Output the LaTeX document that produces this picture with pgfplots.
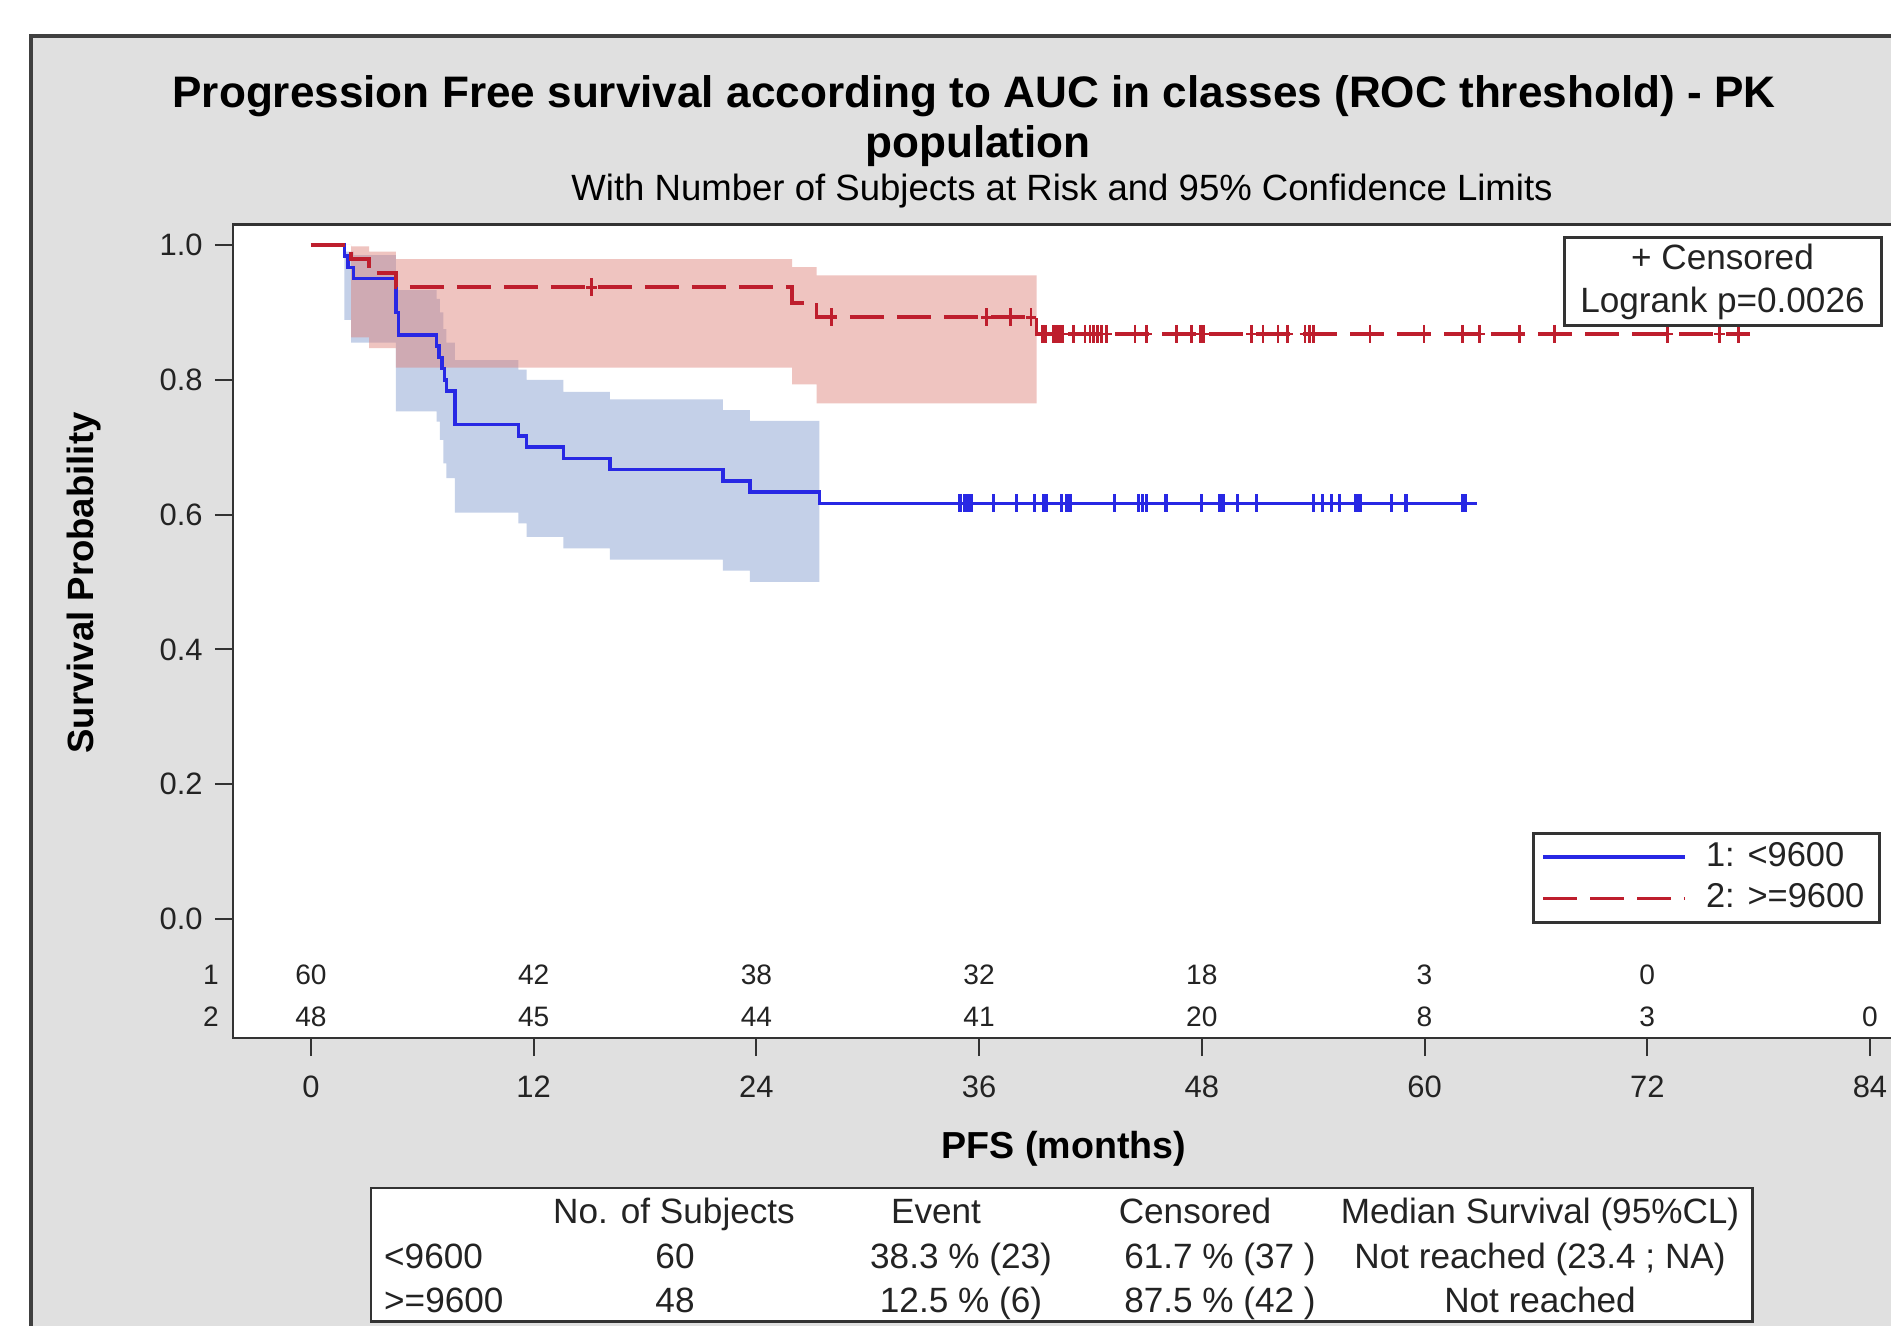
\documentclass[border=0pt]{standalone}
\usepackage{fontspec}
\setmainfont{Liberation Sans}
\usepackage{pgfplots}
\pgfplotsset{compat=1.18}
\definecolor{bgc}{RGB}{224,224,224}
\definecolor{bandblue}{RGB}{196,208,232}
\definecolor{bandred}{RGB}{222,127,118}
\definecolor{lblue}{RGB}{40,40,228}
\definecolor{lred}{RGB}{190,30,45}
\definecolor{txt}{RGB}{35,35,35}
\begin{document}
\begin{tikzpicture}
\fill[white] (0,0) rectangle (18.91,-13.26);
\filldraw[fill=bgc, draw=black!75, line width=1pt] (0.31,-0.36) rectangle (19.6,-14);

\begin{axis}[
  at={(2.33cm,-10.38cm)}, anchor=south west,
  scale only axis, width=16.741cm, height=8.139cm,
  xmin=-4.2, xmax=86, ymin=-0.1766, ymax=1.031,
  axis background/.style={fill=white},
  axis line style={black!80, line width=0.85pt},
  clip=false,
  xtick={0,12,24,36,48,60,72,84}, ytick={0,0.2,0.4,0.6,0.8,1},
  xtick pos=left, ytick pos=left,
  tick align=outside,
  major tick length=0.18cm,
  tick style={black!80, line width=0.6pt},
  /pgf/number format/assume math mode=true,
  yticklabel style={/pgf/number format/fixed, /pgf/number format/fixed zerofill, /pgf/number format/precision=1},
  xticklabel style={yshift=-0.07cm},
  ticklabel style={font=\fontsize{8.8}{10}\selectfont, text=txt},
  legend style={at={(axis cs:84.59,0.1291)}, anchor=north east, draw=black!80, line width=0.85pt, fill=white,
    font=\fontsize{9.8}{11}\selectfont, text=txt, inner xsep=0.08cm, inner ysep=0.02cm, row sep=-0.02cm, cells={anchor=west},
    /tikz/every odd column/.append style={column sep=0.12cm}},
  legend image code/.code={\draw[#1] (0cm,0cm) -- (1.42cm,0cm);},
]
% blue confidence band
\addplot[fill=bandblue, draw=none, forget plot] coordinates {
(0,1) (1.8,1) (1.8,0.99) (2.3,0.99) (2.3,0.985) (4.58,0.985) (4.58,0.933) (6.77,0.933) (6.77,0.92) (6.95,0.92)
(6.95,0.90) (7.13,0.90) (7.13,0.875) (7.3,0.875) (7.3,0.855) (7.76,0.855) (7.76,0.829) (11.17,0.829) (11.17,0.815)
(11.62,0.815) (11.62,0.80) (13.6,0.80) (13.6,0.782) (16.1,0.782) (16.1,0.771) (22.2,0.771) (22.2,0.755) (23.65,0.755)
(23.65,0.739) (27.39,0.739)
(27.39,0.50) (23.65,0.50) (23.65,0.517) (22.2,0.517) (22.2,0.533) (16.1,0.533) (16.1,0.55) (13.6,0.55) (13.6,0.567)
(11.62,0.567) (11.62,0.587) (11.17,0.587) (11.17,0.603) (7.76,0.603) (7.76,0.654) (7.3,0.654) (7.3,0.676) (7.13,0.676)
(7.13,0.711) (6.95,0.711) (6.95,0.738) (6.77,0.738) (6.77,0.753) (4.58,0.753) (4.58,0.855) (2.16,0.855) (2.16,0.889)
(1.8,0.889) (1.8,1)} --cycle;
% red confidence band
\addplot[fill=bandred, fill opacity=0.46, draw=none, forget plot] coordinates {
(0,1) (2.16,1) (2.16,0.998) (3.14,0.998) (3.14,0.99) (4.58,0.99) (4.58,0.979) (25.93,0.979) (25.93,0.967)
(27.25,0.967) (27.25,0.955) (39.1,0.955)
(39.1,0.765) (27.25,0.765) (27.25,0.793) (25.93,0.793) (25.93,0.818) (4.58,0.818) (4.58,0.847) (3.14,0.847)
(3.14,0.863) (2.16,0.863) (2.16,1)} --cycle;
% survival curves
\addplot[lblue, line width=1pt, const plot] coordinates {
(0,1) (1.8,0.9833) (2.0,0.9667) (2.3,0.95) (4.58,0.90) (4.72,0.8667) (6.77,0.85) (6.9,0.8333) (7.05,0.8167)
(7.2,0.80) (7.3,0.7833) (7.76,0.7333) (11.17,0.7167) (11.62,0.70) (13.6,0.6833) (16.1,0.6667) (22.2,0.65)
(23.65,0.6333) (27.39,0.6167) (62.8,0.6167)};
\addlegendentry{1: <9600}
\addplot[lred, line width=1pt, const plot, dash pattern=on 0.34cm off 0.13cm] coordinates {
(0,1) (2.16,0.9792) (3.14,0.9583) (4.58,0.9375) (25.93,0.914) (27.25,0.893) (39.1,0.868) (77.53,0.868)};
\addlegendentry{2: >=9600}
% censored marks
\addplot[lblue, only marks, mark=|, mark size=0.09cm, mark options={line width=0.9pt}, forget plot] coordinates {
(34.97,0.6167) (35.24,0.6167) (35.3,0.6167) (35.4,0.6167) (35.5,0.6167) (35.6,0.6167) (36.76,0.6167) (38.0,0.6167)
(39.0,0.6167) (39.46,0.6167) (39.55,0.6167) (39.6,0.6167) (40.45,0.6167) (40.7,0.6167) (40.8,0.6167) (40.9,0.6167)
(43.3,0.6167) (44.6,0.6167) (44.8,0.6167) (45.0,0.6167) (46.07,0.6167) (48.0,0.6167) (48.98,0.6167) (49.15,0.6167)
(49.9,0.6167) (50.95,0.6167) (54.0,0.6167) (54.5,0.6167) (55.0,0.6167) (55.4,0.6167) (56.3,0.6167) (56.4,0.6167)
(56.55,0.6167) (58.2,0.6167) (59.0,0.6167) (62.07,0.6167) (62.2,0.6167)};
\addplot[lred, only marks, mark=+, mark size=0.09cm, mark options={line width=0.8pt, solid, xscale=0.6}, forget plot] coordinates {
(15.1,0.9375) (28.05,0.893) (36.4,0.893) (37.7,0.893) (38.8,0.893)
(39.42,0.868) (39.5,0.868) (39.6,0.868) (40.0,0.868) (40.1,0.868) (40.2,0.868) (40.35,0.868) (40.5,0.868)
(41.07,0.868) (41.7,0.868) (41.97,0.868) (42.15,0.868) (42.37,0.868) (42.6,0.868) (42.87,0.868) (44.4,0.868)
(45.03,0.868) (46.64,0.868) (47.45,0.868) (47.93,0.868) (48.08,0.868) (50.68,0.868) (51.3,0.868) (52.1,0.868)
(52.6,0.868) (53.56,0.868) (53.8,0.868) (54.0,0.868) (57.06,0.868) (59.97,0.868) (62.05,0.868) (62.98,0.868)
(65.1,0.868) (67.0,0.868) (73.07,0.868) (75.9,0.868) (76.9,0.868)};
% numbers at risk
\begin{scope}[every node/.style={font=\fontsize{8}{9}\selectfont, text=txt}]
\node at (axis cs:-5.39,-0.0823) {1};
\node at (axis cs:-5.39,-0.145) {2};
\node at (axis cs:0,-0.0823) {60};
\node at (axis cs:12,-0.0823) {42};
\node at (axis cs:24,-0.0823) {38};
\node at (axis cs:36,-0.0823) {32};
\node at (axis cs:48,-0.0823) {18};
\node at (axis cs:60,-0.0823) {3};
\node at (axis cs:72,-0.0823) {0};
\node at (axis cs:0,-0.145) {48};
\node at (axis cs:12,-0.145) {45};
\node at (axis cs:24,-0.145) {44};
\node at (axis cs:36,-0.145) {41};
\node at (axis cs:48,-0.145) {20};
\node at (axis cs:60,-0.145) {8};
\node at (axis cs:72,-0.145) {3};
\node at (axis cs:84,-0.145) {0};
\end{scope}
\end{axis}

% titles and labels
\node[anchor=base, font=\bfseries\fontsize{12.55}{14}\selectfont] at (9.74,-1.08) {Progression Free survival according to AUC in classes (ROC threshold) - PK};
\node[anchor=base, font=\bfseries\fontsize{12.55}{14}\selectfont] at (9.78,-1.58) {population};
\node[anchor=base, font=\fontsize{10.4}{12}\selectfont] at (10.62,-2.01) {With Number of Subjects at Risk and 95\% Confidence Limits};
\node[rotate=90, font=\bfseries\fontsize{10.4}{12}\selectfont] at (0.84,-5.83) {Survival Probability};
\node[anchor=base, font=\bfseries\fontsize{10.7}{12}\selectfont] at (10.64,-11.58) {PFS (months)};

% censored / logrank box
\node[draw=black!80, line width=0.85pt, fill=white, minimum width=3.17cm, minimum height=0.88cm, align=center,
  font=\fontsize{10}{12.2}\selectfont, text=txt, inner sep=0pt] at (17.225,-2.82) {+ Censored\\Logrank p=0.0026};

% summary table
\filldraw[fill=white, draw=black!80, line width=0.85pt] (3.71,-11.88) rectangle (17.52,-13.21);
\begin{scope}[every node/.style={anchor=base, font=\fontsize{10}{12}\selectfont, text=txt, inner sep=0pt}]
\node at (6.74,-12.23) {No. of Subjects};
\node at (9.36,-12.23) {Event};
\node at (11.95,-12.23) {Censored};
\node at (15.40,-12.23) {Median Survival (95\%CL)};
\node[anchor=base west] at (3.835,-12.68) {<9600};
\node at (6.75,-12.68) {60};
\node at (9.61,-12.68) {38.3 \% (23)};
\node at (12.20,-12.68) {61.7 \% (37 )};
\node at (15.40,-12.68) {Not reached (23.4 ; NA)};
\node[anchor=base west] at (3.835,-13.12) {>=9600};
\node at (6.75,-13.12) {48};
\node at (9.61,-13.12) {12.5 \% (6)};
\node at (12.20,-13.12) {87.5 \% (42 )};
\node at (15.40,-13.12) {Not reached};
\end{scope}
\pgfresetboundingbox
\path[use as bounding box] (0,0) rectangle (18.91,-13.26);
\end{tikzpicture}
\end{document}
